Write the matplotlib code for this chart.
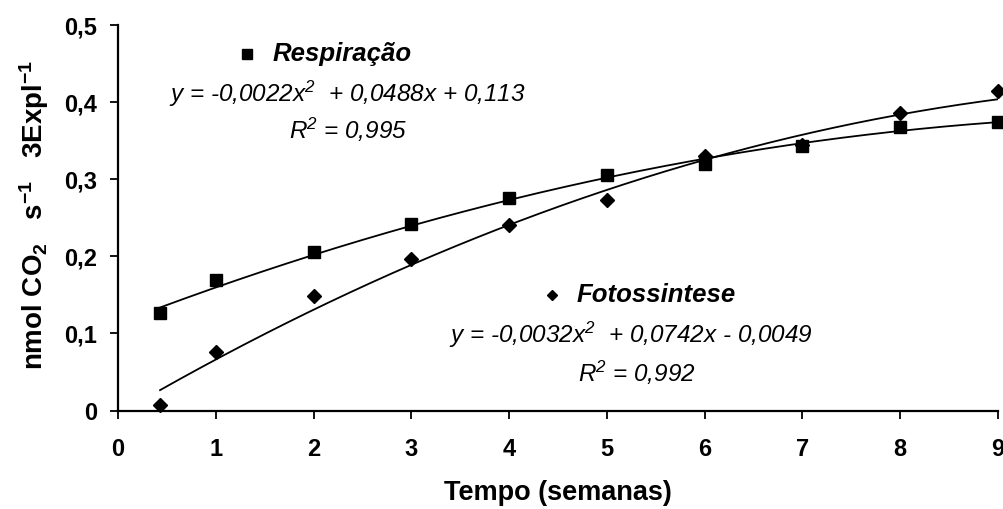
import numpy as np
import matplotlib
matplotlib.use("Agg")
import matplotlib.pyplot as plt

plt.rcParams['font.family'] = ['Liberation Sans', 'DejaVu Sans']
plt.rcParams['mathtext.fontset'] = 'custom'
plt.rcParams['mathtext.rm'] = 'Liberation Sans:bold'
plt.rcParams['mathtext.bf'] = 'Liberation Sans:bold'
plt.rcParams['mathtext.it'] = 'Liberation Sans:italic'
plt.rcParams['mathtext.default'] = 'bf'

# ---- data ----
weeks = [0.43, 1, 2, 3, 4, 5, 6, 7, 8, 9]
respiracao = [0.126, 0.169, 0.206, 0.242, 0.275, 0.305, 0.320, 0.343, 0.368, 0.374]
fotossintese = [0.007, 0.076, 0.148, 0.197, 0.241, 0.273, 0.330, 0.345, 0.386, 0.415]
coef_resp = [-0.0022, 0.0488, 0.113]
coef_foto = [-0.0032, 0.0742, -0.0049]
r2_resp = "0,995"
r2_foto = "0,992"
xticks = [0, 1, 2, 3, 4, 5, 6, 7, 8, 9]
yticks = [0, 0.1, 0.2, 0.3, 0.4, 0.5]
ytick_labels = ["0", "0,1", "0,2", "0,3", "0,4", "0,5"]

fig = plt.figure(figsize=(10.04, 5.09), dpi=100)
ax = fig.add_axes([118/1004, 1-410.5/509, 880/1004, (410.5-25)/509])

xs = np.linspace(weeks[0], weeks[-1], 200)
ax.plot(xs, np.polyval(coef_resp, xs), color='black', lw=1.3, zorder=2)
ax.plot(xs, np.polyval(coef_foto, xs), color='black', lw=1.3, zorder=2)
ax.plot(weeks, respiracao, 's', color='black', ms=8.5, ls='none', zorder=3, clip_on=False)
ax.plot(weeks, fotossintese, 'D', color='black', ms=7.5, ls='none', zorder=3, clip_on=False)

ax.set_xlim(0, 9)
ax.set_ylim(0, 0.5)
ax.set_xticks(xticks)
ax.set_xticklabels([str(t) for t in xticks])
ax.set_yticks(yticks)
ax.set_yticklabels(ytick_labels)
for s in ['top', 'right']:
    ax.spines[s].set_visible(False)
for s in ['left', 'bottom']:
    ax.spines[s].set_linewidth(1.6)
ax.tick_params(axis='both', direction='out', length=6, width=1.3, labelsize=17)
ax.tick_params(axis='x', pad=14)
ax.tick_params(axis='y', pad=9)
for lab in ax.get_xticklabels() + ax.get_yticklabels():
    lab.set_fontweight('bold')

sup2 = r"$^{\mathregular{2}}$"

# legends / equations
ax.plot([1.32], [0.463], 's', color='black', ms=6.5, clip_on=False)
ax.text(1.585, 0.462, "Respiração", fontsize=18.5, fontweight='bold', style='italic',
        ha='left', va='center')
ax.text(2.35, 0.41, "y = -0,0022x" + sup2 + "  + 0,0488x + 0,113", fontsize=17.5,
        style='italic', ha='center', va='center')
ax.text(2.35, 0.364, "R" + sup2 + " = " + r2_resp, fontsize=17.5, style='italic',
        ha='center', va='center')

ax.plot([4.44], [0.150], 'D', color='black', ms=5.5, clip_on=False)
ax.text(4.69, 0.150, "Fotossintese", fontsize=18.5, fontweight='bold', style='italic',
        ha='left', va='center')
ax.text(5.245, 0.098, "y = -0,0032x" + sup2 + "  + 0,0742x - 0,0049", fontsize=17.5,
        style='italic', ha='center', va='center')
ax.text(5.31, 0.0487, "R" + sup2 + " = " + r2_foto, fontsize=17.5, style='italic',
        ha='center', va='center')

fig.text(34/1004, 1-215/509, r"nmol CO$_2$   s$^{-1}$   3Expl$^{-1}$", rotation=90,
         fontsize=20, fontweight='bold', ha='center', va='center')
fig.text(558/1004, 1-493/509, "Tempo (semanas)", fontsize=19.5, fontweight='bold',
         ha='center', va='center')

fig.savefig("out.png", dpi=100)
